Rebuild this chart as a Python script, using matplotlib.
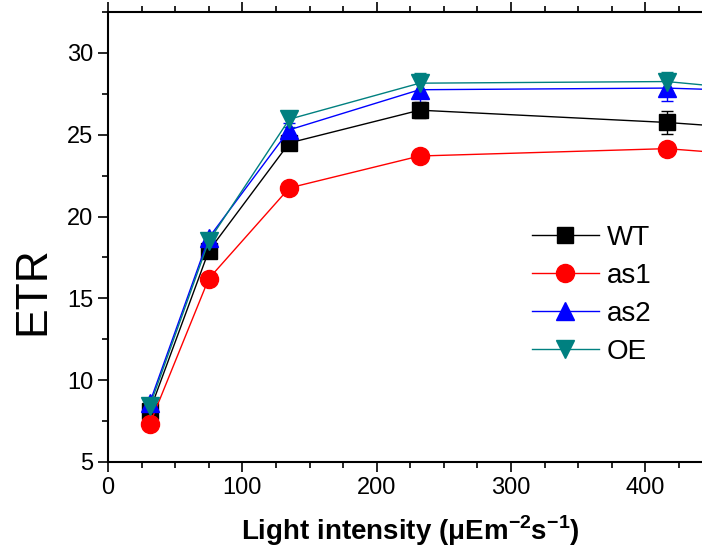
import matplotlib.pyplot as plt
from matplotlib.ticker import MultipleLocator

plt.rcParams['font.family'] = ['Liberation Sans', 'DejaVu Sans']
plt.rcParams['mathtext.fontset'] = 'custom'
plt.rcParams['mathtext.rm'] = 'Liberation Sans'
plt.rcParams['mathtext.bf'] = 'Liberation Sans:bold'

# light intensity (last point lies past the visible range)
light = [31, 75, 135, 232, 416, 630]

etr_wt = [8.1, 17.9, 24.5, 26.5, 25.75, 24.5]
etr_as1 = [7.3, 16.2, 21.75, 23.7, 24.15, 22.8]
etr_as2 = [8.6, 18.7, 25.3, 27.75, 27.85, 27.3]
etr_oe = [8.4, 18.5, 25.95, 28.15, 28.25, 26.6]

err_wt = [0.2, 0.3, 0.3, 0.5, 0.7, 0.0]
err_as1 = [0.1, 0.2, 0.2, 0.2, 0.3, 0.0]
err_as2 = [0.2, 0.3, 0.4, 0.8, 0.8, 0.0]
err_oe = [0.2, 0.3, 0.5, 0.6, 0.6, 0.0]

labels = ['WT', 'as1', 'as2', 'OE']
xticks = [0, 100, 200, 300, 400]

fig = plt.figure(figsize=(7.02, 5.5), dpi=100)
# axes runs past the right edge of the figure, like the original
ax = fig.add_axes([108/702, 88/550, 806/702, 450/550])

ax.errorbar(light, etr_wt, yerr=err_wt, color='black', marker='s', markersize=12,
            linewidth=1, capsize=4, elinewidth=1, label=labels[0])
ax.errorbar(light, etr_as1, yerr=err_as1, color='red', marker='o', markersize=13,
            linewidth=1, capsize=4, elinewidth=1, label=labels[1])
ax.errorbar(light, etr_as2, yerr=err_as2, color='blue', marker='^', markersize=13,
            linewidth=1, capsize=4, elinewidth=1, label=labels[2])
ax.errorbar(light, etr_oe, yerr=err_oe, color='teal', marker='v', markersize=13,
            linewidth=1, capsize=4, elinewidth=1, label=labels[3])

ax.set_xlim(0, 600)
ax.set_ylim(5, 32.5)
ax.set_xticks(xticks)
ax.xaxis.set_minor_locator(MultipleLocator(25))
ax.yaxis.set_major_locator(MultipleLocator(5))
ax.yaxis.set_minor_locator(MultipleLocator(2.5))
ax.tick_params(which='both', direction='out', top=True, width=1.2)
ax.tick_params(which='major', length=7, labelsize=17)
ax.tick_params(which='minor', length=4)
for s in ax.spines.values():
    s.set_linewidth(1.5)

ax.set_xlabel(r'Light intensity (μEm$^{\mathbf{-2}}$s$^{\mathbf{-1}}$)',
              fontsize=20, fontweight='bold')
ax.xaxis.set_label_coords(0.375, -0.115)
ax.set_ylabel('ETR', fontsize=32)
ax.yaxis.set_label_coords(-0.068, 0.38)

# legend handles without the error bars
handles, labs = ax.get_legend_handles_labels()
handles = [h[0] for h in handles]
ax.legend(handles, labs, loc='upper left', bbox_to_anchor=(507/702, 1 - 200/550),
          bbox_transform=fig.transFigure, frameon=False, fontsize=20,
          handlelength=2.4, handletextpad=0.3, labelspacing=0.43)

fig.savefig('out.png', dpi=100)
